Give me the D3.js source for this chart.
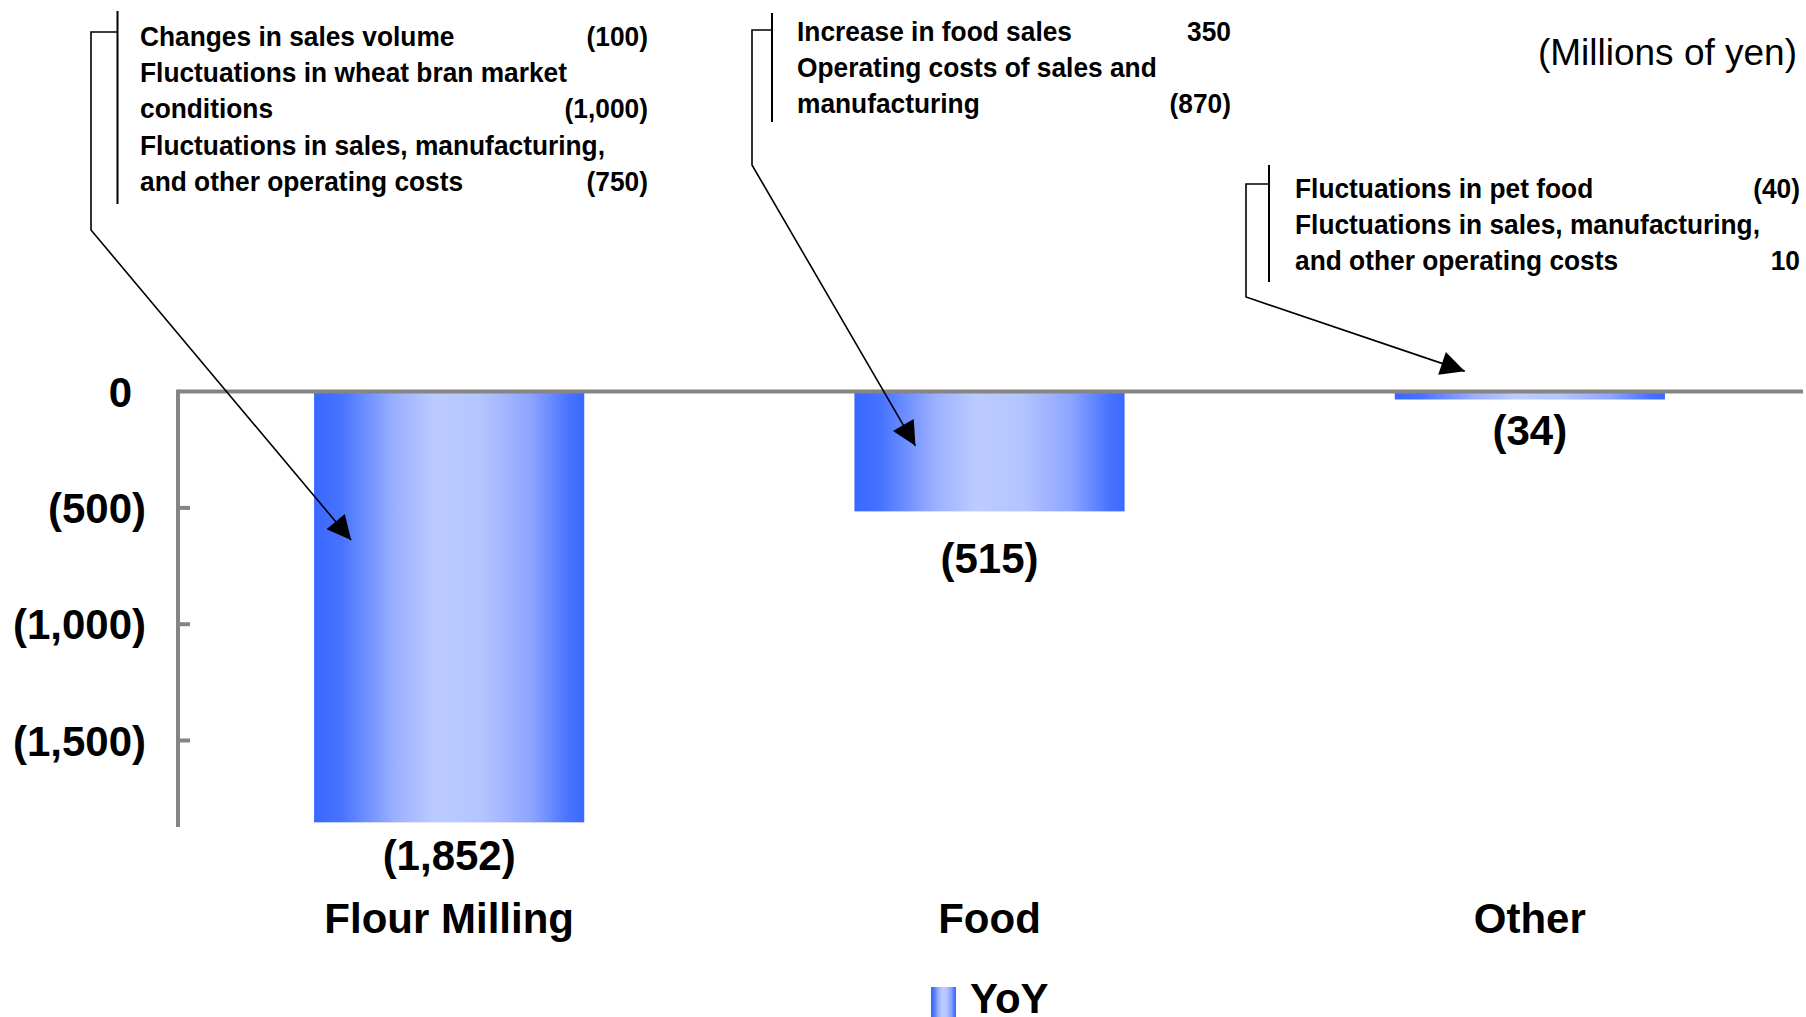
<!DOCTYPE html>
<html>
<head>
<meta charset="utf-8">
<script src="https://cdn.jsdelivr.net/npm/d3@7"></script>
<style>
  html, body { margin: 0; padding: 0; background: #fff; }
  svg { display: block; font-family: "Liberation Sans", Arial, sans-serif; }
</style>
</head>
<body>
<div id="chart"></div>
<script>
// chart data
const categories = ["Flour Milling", "Food", "Other"];
const yoyValues = [-1852, -515, -34];
const yTicks = [0, -500, -1000, -1500];
const legendLabel = "YoY";
const unitLabel = "(Millions of yen)";

// annotation text: [label, amount]
const noteFlour = [
  ["Changes in sales volume", "(100)"],
  ["Fluctuations in wheat bran market", ""],
  ["conditions", "(1,000)"],
  ["Fluctuations in sales, manufacturing,", ""],
  ["and other operating costs", "(750)"]
];
const noteFood = [
  ["Increase in food sales", "350"],
  ["Operating costs of sales and", ""],
  ["manufacturing", "(870)"]
];
const noteOther = [
  ["Fluctuations in pet food", "(40)"],
  ["Fluctuations in sales, manufacturing,", ""],
  ["and other operating costs", "10"]
];

const width = 1806, height = 1017;

const svg = d3.select("#chart").append("svg")
    .attr("width", width)
    .attr("height", height);

svg.append("rect").attr("width", width).attr("height", height).attr("fill", "#fff");

const x = d3.scaleBand()
    .domain(categories)
    .range([179, 1800])
    .paddingInner(0.5)
    .paddingOuter(0.25);

const y = d3.scaleLinear()
    .domain([0, -1872])
    .range([391.6, 827]);

// bar gradient
const defs = svg.append("defs");
const grad = defs.append("linearGradient").attr("id", "barGrad")
    .attr("x1", "0%").attr("x2", "100%").attr("y1", "0%").attr("y2", "0%");
[[0, "#3a68ff"], [0.1, "#4773ff"], [0.3, "#9cb0ff"], [0.45, "#bccbff"],
 [0.62, "#b4c4ff"], [0.8, "#8ea5ff"], [0.94, "#4a74ff"], [1, "#3a68ff"]]
  .forEach(s => grad.append("stop").attr("offset", s[0]).attr("stop-color", s[1]));

defs.append("marker")
    .attr("id", "arrow")
    .attr("viewBox", "0 0 10 10")
    .attr("refX", 10).attr("refY", 5)
    .attr("markerWidth", 30).attr("markerHeight", 24)
    .attr("markerUnits", "userSpaceOnUse")
    .attr("orient", "auto")
  .append("path")
    .attr("d", "M0,0 L10,5 L0,10 z")
    .attr("fill", "#000");

// bars
svg.append("g").selectAll("rect")
  .data(categories)
  .join("rect")
    .attr("x", d => x(d))
    .attr("width", x.bandwidth())
    .attr("y", y(0))
    .attr("height", (d, i) => y(yoyValues[i]) - y(0))
    .attr("fill", "url(#barGrad)");

// axes
const axisColor = "#858585";
svg.append("line")
    .attr("x1", x.range()[0] - 1).attr("x2", 1803)
    .attr("y1", y(0)).attr("y2", y(0))
    .attr("stroke", axisColor).attr("stroke-width", 4);
svg.append("line")
    .attr("x1", x.range()[0] - 1).attr("x2", x.range()[0] - 1)
    .attr("y1", y(0) - 2).attr("y2", y.range()[1])
    .attr("stroke", axisColor).attr("stroke-width", 4);

const fmt = d3.format(",");
const tickG = svg.append("g");
tickG.selectAll("line")
  .data(yTicks.filter(d => d !== 0))
  .join("line")
    .attr("x1", x.range()[0] - 1).attr("x2", x.range()[0] + 11)
    .attr("y1", d => y(d)).attr("y2", d => y(d))
    .attr("stroke", axisColor).attr("stroke-width", 4);

const tickText = tickG.selectAll("text")
  .data(yTicks)
  .join("text")
    .attr("x", 146)
    .attr("y", d => y(d))
    .attr("dy", "0.36em")
    .attr("text-anchor", "end")
    .attr("font-size", 42)
    .attr("font-weight", "bold")
    .text(d => d < 0 ? "(" + fmt(-d) + ")" : fmt(d));
tickText.filter(d => d >= 0).append("tspan").attr("fill-opacity", 0).text(")");

// value labels (gap below each bar end)
const valueGap = [48, 62, 45];
svg.append("g").selectAll("text")
  .data(categories)
  .join("text")
    .attr("x", d => x(d) + x.bandwidth() / 2)
    .attr("y", (d, i) => y(yoyValues[i]) + valueGap[i])
    .attr("text-anchor", "middle")
    .attr("font-size", 42)
    .attr("font-weight", "bold")
    .text((d, i) => yoyValues[i] < 0 ? "(" + fmt(-yoyValues[i]) + ")" : fmt(yoyValues[i]));

// category labels
svg.append("g").selectAll("text")
  .data(categories)
  .join("text")
    .attr("x", d => x(d) + x.bandwidth() / 2)
    .attr("y", 933)
    .attr("text-anchor", "middle")
    .attr("font-size", 42)
    .attr("font-weight", "bold")
    .text(d => d);

// unit label
svg.append("text")
    .attr("x", 1797).attr("y", 65)
    .attr("text-anchor", "end")
    .attr("font-size", 37)
    .text(unitLabel);

// legend
svg.append("rect")
    .attr("x", 931).attr("y", 987).attr("width", 25).attr("height", 30)
    .attr("fill", "url(#barGrad)");
svg.append("text")
    .attr("x", 970).attr("y", 1013)
    .attr("font-size", 42).attr("font-weight", "bold")
    .text(legendLabel);

// annotations
const notes = [
  {lines: noteFlour, cat: "Flour Milling", textX: 140, right: 648, base: 46,
   barX: 117.5, barTop: 11, barBot: 204, elbowX: 91, elbowTop: 32, elbowBot: 230,
   tipDx: 37, tipV: -638},
  {lines: noteFood, cat: "Food", textX: 797, right: 1231, base: 41,
   barX: 772, barTop: 13, barBot: 122, elbowX: 752, elbowTop: 30, elbowBot: 165,
   tipDx: 61, tipV: -233},
  {lines: noteOther, cat: "Other", textX: 1295, right: 1800, base: 198,
   barX: 1269, barTop: 165, barBot: 282, elbowX: 1246, elbowTop: 184, elbowBot: 297,
   tipDx: 70, tipV: 88}
];
const lineGap = 36.2;
const squeeze = 0.975;

notes.forEach(n => {
  const g = svg.append("g");
  g.selectAll("text.lbl")
    .data(n.lines)
    .join("text")
      .attr("class", "lbl")
      .attr("transform", (d, i) => `translate(${n.textX},${n.base + i * lineGap}) scale(${squeeze},1)`)
      .attr("font-size", 27)
      .attr("font-weight", "bold")
      .text(d => d[0]);
  g.selectAll("text.amt")
    .data(n.lines.filter(d => d[1] !== ""))
    .join("text")
      .attr("class", "amt")
      .attr("transform", d => `translate(${n.right},${n.base + n.lines.indexOf(d) * lineGap}) scale(${squeeze},1)`)
      .attr("text-anchor", "end")
      .attr("font-size", 27)
      .attr("font-weight", "bold")
      .text(d => d[1]);
  g.append("line")
      .attr("x1", n.barX).attr("x2", n.barX)
      .attr("y1", n.barTop).attr("y2", n.barBot)
      .attr("stroke", "#000").attr("stroke-width", 2);
  const tipX = x(n.cat) + n.tipDx, tipY = y(n.tipV);
  g.append("polyline")
      .attr("points", [[n.barX, n.elbowTop], [n.elbowX, n.elbowTop], [n.elbowX, n.elbowBot], [tipX, tipY]].map(p => p.join(",")).join(" "))
      .attr("fill", "none")
      .attr("stroke", "#000").attr("stroke-width", 1.6)
      .attr("marker-end", "url(#arrow)");
});
</script>
</body>
</html>
